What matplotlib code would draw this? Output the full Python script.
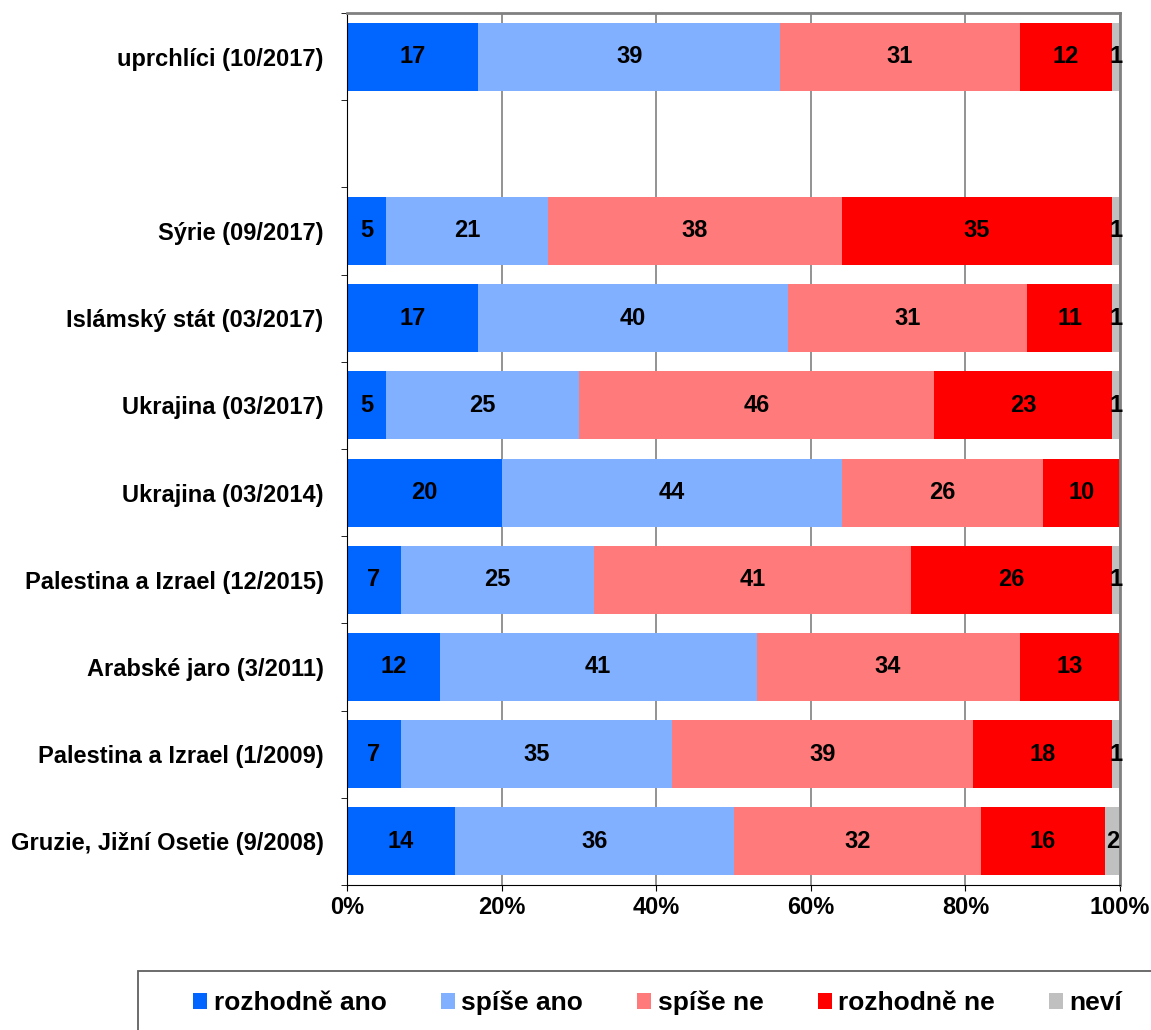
import numpy as np
import matplotlib.pyplot as plt
from matplotlib.patches import Rectangle

plt.rcParams['font.family'] = ['Liberation Sans', 'DejaVu Sans']
plt.rcParams['font.weight'] = 'bold'

# categories from top to bottom ('' = empty gap row)
categories = ['uprchlíci (10/2017)', '', 'Sýrie (09/2017)', 'Islámský stát (03/2017)',
              'Ukrajina (03/2017)', 'Ukrajina (03/2014)', 'Palestina a Izrael (12/2015)',
              'Arabské jaro (3/2011)', 'Palestina a Izrael (1/2009)',
              'Gruzie, Jižní Osetie (9/2008)']

rozhodne_ano = [17, 0, 5, 17, 5, 20, 7, 12, 7, 14]
spise_ano = [39, 0, 21, 40, 25, 44, 25, 41, 35, 36]
spise_ne = [31, 0, 38, 31, 46, 26, 41, 34, 39, 32]
rozhodne_ne = [12, 0, 35, 11, 23, 10, 26, 13, 18, 16]
nevi = [1, 0, 1, 1, 1, 0, 1, 0, 1, 2]

series = [rozhodne_ano, spise_ano, spise_ne, rozhodne_ne, nevi]
names = ['rozhodně ano', 'spíše ano', 'spíše ne', 'rozhodně ne', 'neví']
colors = ['#0066FF', '#80B0FF', '#FF7B7B', '#FF0000', '#C0C0C0']

W, H = 1151, 1030
fig = plt.figure(figsize=(W / 100, H / 100), dpi=100)
ax = fig.add_axes([347 / W, 1 - 885 / H, (1120 - 347) / W, (885 - 13) / H])

y = np.arange(len(categories))
left = np.zeros(len(categories))
for vals, name, col in zip(series, names, colors):
    vals = np.array(vals, dtype=float)
    ax.barh(y, vals, left=left, height=0.78, color=col, label=name, zorder=2)
    for yi, (l, v) in enumerate(zip(left, vals)):
        if v > 0:
            ax.text(l + v / 2, yi, '%d' % v, ha='center', va='center',
                    fontsize=17, fontweight='bold', zorder=3)
    left += vals

ax.set_xlim(0, 100)
ax.set_ylim(len(categories) - 0.5, -0.5)
ax.set_xticks([0, 20, 40, 60, 80, 100])
ax.set_xticklabels(['0%', '20%', '40%', '60%', '80%', '100%'], fontsize=17, fontweight='bold')
ax.xaxis.grid(True, color='#808080', linewidth=1.2, zorder=0)
ax.set_axisbelow(True)

# category labels at bar centres, tick marks at the boundaries
ax.set_yticks(y)
ax.set_yticklabels(categories, fontsize=17, fontweight='bold')
ax.tick_params(axis='y', length=0, pad=17)
ax.set_yticks(np.arange(len(categories) + 1) - 0.5, minor=True)
ax.tick_params(axis='y', which='minor', length=4.5, color='black')
ax.tick_params(axis='x', length=4, pad=4)

ax.spines['left'].set_color('black')
ax.spines['bottom'].set_color('black')
ax.spines['top'].set_color('#808080')
ax.spines['right'].set_color('#808080')
ax.spines['top'].set_linewidth(2)
ax.spines['right'].set_linewidth(2)

# legend box runs off the right and bottom edge of the image
fig.patches.append(Rectangle((138 / W, -0.05), (1180 - 138) / W, 0.05 + (1 - 971 / H),
                             transform=fig.transFigure, fill=False,
                             edgecolor='#606060', linewidth=1.3))
leg = fig.legend(loc='center left', bbox_to_anchor=(193 / W, 1 - 1003 / H), ncol=5,
                 prop={'size': 19, 'weight': 'bold'}, frameon=False,
                 handlelength=0.53, handleheight=0.53, handletextpad=0.25,
                 columnspacing=2.05, borderpad=0, borderaxespad=0)

fig.savefig('out.png', dpi=100)
